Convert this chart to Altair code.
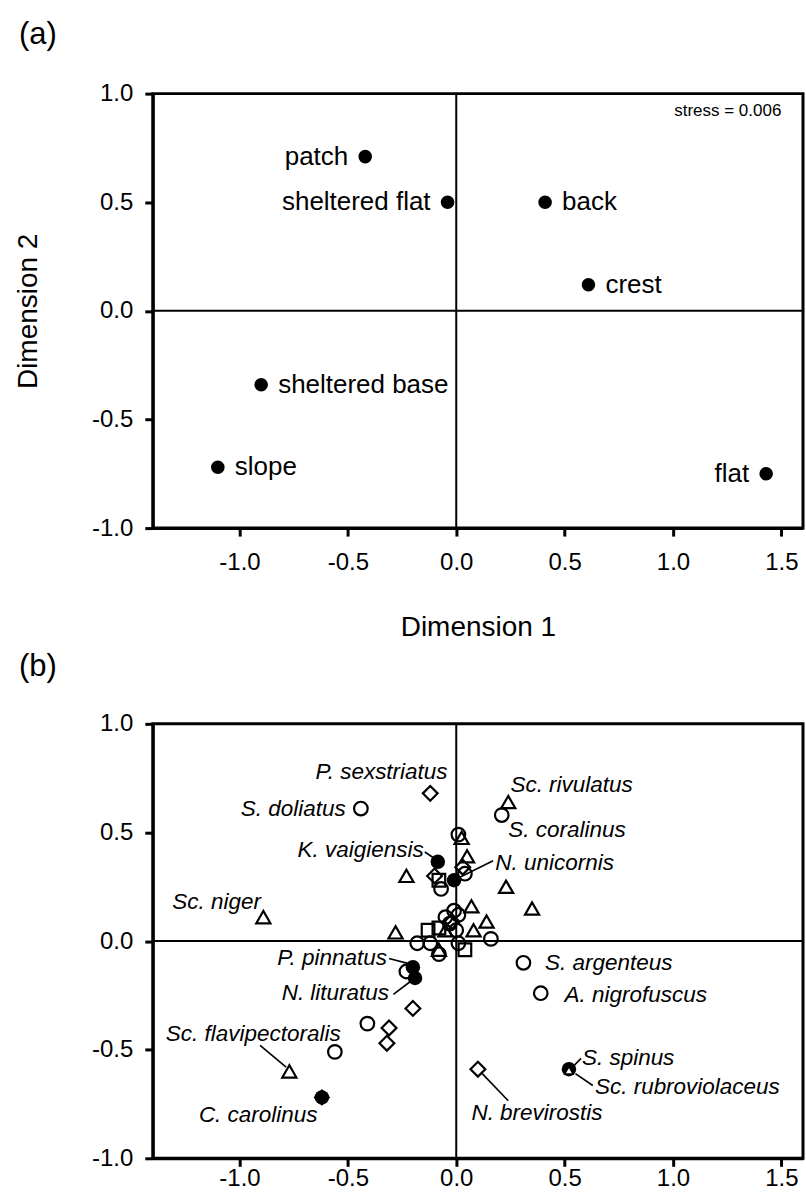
import altair as alt
import pandas as pd

FONT = "Arial, Liberation Sans, sans-serif"

# ---------------- Panel (a): sites ----------------
a_labels = ["patch", "sheltered flat", "back", "crest", "sheltered base", "slope", "flat"]
a_x = [-0.42, -0.04, 0.41, 0.61, -0.90, -1.10, 1.43]
a_y = [0.71, 0.50, 0.50, 0.12, -0.34, -0.72, -0.75]
a_side = ["left", "left", "right", "right", "right", "right", "left"]
stress_text = "stress = 0.006"

# ---------------- Panel (b): species ----------------
open_circle_x = [0.01, 0.21, -0.44, 0.04, -0.07, -0.01, 0.01, -0.05, 0.00, 0.16, -0.18, -0.12,
                 -0.08, 0.01, -0.23, 0.31, 0.39, -0.41, -0.56, -0.03]
open_circle_y = [0.49, 0.58, 0.61, 0.31, 0.24, 0.14, 0.12, 0.11, 0.05, 0.01, -0.01, -0.01,
                 -0.06, -0.01, -0.14, -0.10, -0.24, -0.38, -0.51, 0.08]
filled_circle_x = [-0.085, -0.01, -0.20, -0.19, -0.62, 0.52]
filled_circle_y = [0.365, 0.28, -0.12, -0.17, -0.72, -0.59]
triangle_x = [0.025, 0.05, 0.24, -0.23, 0.23, 0.35, 0.07, 0.14, -0.05, 0.08, -0.28, -0.08, -0.89, -0.77]
triangle_y = [0.475, 0.39, 0.64, 0.30, 0.25, 0.15, 0.16, 0.09, 0.05, 0.05, 0.04, -0.04, 0.11, -0.60]
diamond_x = [-0.12, 0.03, -0.10, -0.20, -0.31, -0.32, 0.10, -0.02]
diamond_y = [0.68, 0.34, 0.30, -0.31, -0.40, -0.47, -0.59, 0.09]
square_x = [-0.08, -0.13, -0.08, 0.04]
square_y = [0.28, 0.05, 0.06, -0.04]
filled_diamond_x = [-0.62]
filled_diamond_y = [-0.72]
inner_triangle_x = [0.52]
inner_triangle_y = [-0.595]

b_right_labels = ["P. sexstriatus", "S. doliatus", "K. vaigiensis", "P. pinnatus", "N. lituratus", "C. carolinus"]
b_right_x = [-0.04, -0.51, -0.15, -0.32, -0.31, -0.64]
b_right_y = [0.78, 0.61, 0.42, -0.08, -0.24, -0.80]
b_left_labels = ["Sc. niger", "Sc. rivulatus", "S. coralinus", "N. unicornis", "S. argenteus",
                 "A. nigrofuscus", "Sc. flavipectoralis", "N. brevirostis", "S. spinus", "Sc. rubroviolaceus"]
b_left_x = [-1.31, 0.25, 0.24, 0.18, 0.41, 0.50, -1.34, 0.07, 0.58, 0.64]
b_left_y = [0.18, 0.72, 0.51, 0.36, -0.10, -0.25, -0.43, -0.79, -0.54, -0.67]

leader_x = [-0.145, 0.17, -0.31, -0.29, -0.905, 0.12, 0.537, 0.55]
leader_y = [0.41, 0.37, -0.08, -0.245, -0.48, -0.61, -0.58, -0.61]
leader_x2 = [-0.10, 0.01, -0.215, -0.21, -0.785, 0.24, 0.576, 0.63]
leader_y2 = [0.38, 0.29, -0.105, -0.185, -0.58, -0.735, -0.54, -0.665]

x_ticks = [-1.0, -0.5, 0.0, 0.5, 1.0, 1.5]
y_ticks = [-1.0, -0.5, 0.0, 0.5, 1.0]
X_DOMAIN = [-1.4, 1.6]
Y_DOMAIN = [-1.0, 1.0]
W, H = 651, 435
LABEL_EXPR = "datum.value < 0 ? '-' + format(-datum.value, '.1f') : format(datum.value, '.1f')"


def xenc(title, label_pad):
    return alt.X("x:Q", title=title,
                 scale=alt.Scale(domain=X_DOMAIN, nice=False, zero=False),
                 axis=alt.Axis(values=x_ticks, labelExpr=LABEL_EXPR, titlePadding=40,
                               labelPadding=label_pad))


def yenc(title):
    return alt.Y("y:Q", title=title,
                 scale=alt.Scale(domain=Y_DOMAIN, nice=False, zero=False),
                 axis=alt.Axis(values=y_ticks, labelExpr=LABEL_EXPR, titlePadding=49,
                               labelPadding=12))


def xy_df(xs, ys):
    return pd.DataFrame({"x": xs, "y": ys})


def zero_lines():
    v = alt.Chart(pd.DataFrame({"x": [0.0]})).mark_rule(color="black", strokeWidth=2).encode(x="x:Q")
    h = alt.Chart(pd.DataFrame({"y": [0.0]})).mark_rule(color="black", strokeWidth=2).encode(y="y:Q")
    return v, h


def tag(label, ypix):
    return alt.Chart(pd.DataFrame({"t": [label]})).mark_text(
        fontSize=31, font=FONT, align="center", baseline="middle", color="black"
    ).encode(x=alt.value(-115), y=alt.value(ypix), text="t:N")


# ----- panel (a) -----
adf = pd.DataFrame({"x": a_x, "y": a_y, "label": a_labels, "side": a_side})
va, ha = zero_lines()
a_pts = alt.Chart(adf).mark_circle(size=185, color="black", opacity=1).encode(
    x=xenc("Dimension 1", 14), y=yenc("Dimension 2"))
a_txt_l = alt.Chart(adf[adf.side == "left"]).mark_text(
    align="right", baseline="middle", dx=-17, fontSize=26, font=FONT, color="black"
).encode(x="x:Q", y="y:Q", text="label:N")
a_txt_r = alt.Chart(adf[adf.side == "right"]).mark_text(
    align="left", baseline="middle", dx=17, fontSize=26, font=FONT, color="black"
).encode(x="x:Q", y="y:Q", text="label:N")
a_stress = alt.Chart(pd.DataFrame({"x": [1.5], "y": [0.92], "t": [stress_text]})).mark_text(
    align="right", baseline="middle", fontSize=17, font=FONT, color="black"
).encode(x="x:Q", y="y:Q", text="t:N")
panel_a = alt.layer(va, ha, a_pts, a_txt_l, a_txt_r, a_stress, tag("(a)", -59)).properties(width=W, height=H)

# ----- panel (b) -----
vb, hb = zero_lines()
sym = dict(stroke="black", strokeWidth=2.2, filled=False, opacity=1)
b_oc = alt.Chart(xy_df(open_circle_x, open_circle_y)).mark_point(shape="circle", size=185, **sym).encode(
    x=xenc(None, 0), y=yenc(None))
b_tri = alt.Chart(xy_df(triangle_x, triangle_y)).mark_point(shape="triangle-up", size=200, **sym).encode(
    x="x:Q", y="y:Q")
b_dia = alt.Chart(xy_df(diamond_x, diamond_y)).mark_point(shape="diamond", size=220, **sym).encode(
    x="x:Q", y="y:Q")
b_sq = alt.Chart(xy_df(square_x, square_y)).mark_point(shape="square", size=160, **sym).encode(
    x="x:Q", y="y:Q")
b_fd = alt.Chart(xy_df(filled_diamond_x, filled_diamond_y)).mark_point(
    shape="diamond", size=280, filled=True, color="black", opacity=1).encode(x="x:Q", y="y:Q")
b_fc = alt.Chart(xy_df(filled_circle_x, filled_circle_y)).mark_circle(size=210, color="black", opacity=1).encode(
    x="x:Q", y="y:Q")
b_it = alt.Chart(xy_df(inner_triangle_x, inner_triangle_y)).mark_point(
    shape="triangle-up", size=70, filled=True, fill="white", stroke="black", strokeWidth=1.5, opacity=1
).encode(x="x:Q", y="y:Q")
b_lead = alt.Chart(pd.DataFrame({"x": leader_x, "y": leader_y, "x2": leader_x2, "y2": leader_y2})).mark_rule(
    color="black", strokeWidth=1.6).encode(x="x:Q", y="y:Q", x2="x2:Q", y2="y2:Q")
b_txt_r = alt.Chart(pd.DataFrame({"x": b_right_x, "y": b_right_y, "label": b_right_labels})).mark_text(
    align="right", baseline="middle", fontSize=22.5, fontStyle="italic", font=FONT, color="black"
).encode(x="x:Q", y="y:Q", text="label:N")
b_txt_l = alt.Chart(pd.DataFrame({"x": b_left_x, "y": b_left_y, "label": b_left_labels})).mark_text(
    align="left", baseline="middle", fontSize=22.5, fontStyle="italic", font=FONT, color="black"
).encode(x="x:Q", y="y:Q", text="label:N")
panel_b = alt.layer(vb, hb, b_oc, b_tri, b_dia, b_sq, b_fd, b_fc, b_it, b_lead, b_txt_r, b_txt_l,
                    tag("(b)", -57)).properties(width=W, height=H)

chart = alt.vconcat(panel_a, panel_b, spacing=5).configure(
    padding={"left": 13, "top": 16, "right": 0, "bottom": 0}, font=FONT, background="white"
).configure_view(stroke="black", strokeWidth=3).configure_axis(
    labelFont=FONT, labelFontSize=24, labelColor="black", labelFlush=False,
    domainColor="black", domainWidth=3, tickColor="black", tickWidth=3, tickSize=8,
    grid=False, titleFont=FONT, titleFontSize=28, titleFontWeight="normal", titleColor="black"
)

chart.save("out.html", embed_options={"renderer": "svg", "actions": False})
